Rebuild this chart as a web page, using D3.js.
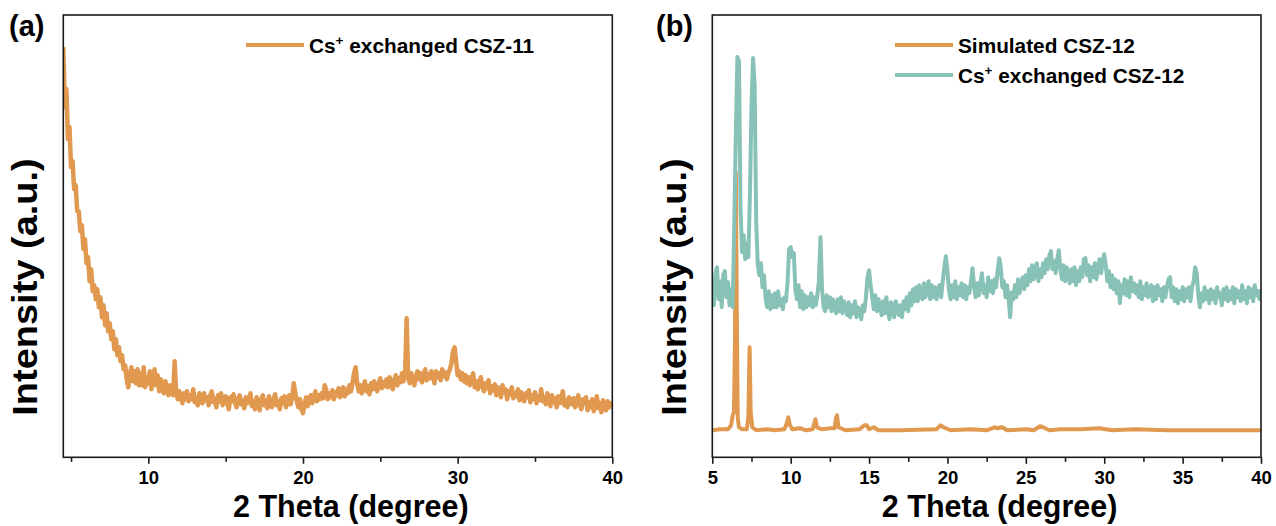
<!DOCTYPE html>
<html><head><meta charset="utf-8">
<script src="https://cdn.jsdelivr.net/npm/d3@7"></script>
<style>
body{margin:0;background:#fff}
text{font-family:"Liberation Sans",Arial,Helvetica,sans-serif;font-weight:bold;fill:#000}
</style>
</head><body>
<svg id="chart" width="1276" height="526"></svg>
<script>
// ---------- DATA ----------
const seriesNames = ["Cs+ exchanged CSZ-11", "Simulated CSZ-12", "Cs+ exchanged CSZ-12"];
const ticksA = [10, 20, 30, 40];
const minorTicksA = [5, 15, 25, 35];
const ticksB = [5, 10, 15, 20, 25, 30, 35, 40];
const minorTicksB = [7.5, 12.5, 17.5, 22.5, 27.5, 32.5, 37.5];
const xDomainA = [4.5, 40];
const xDomainB = [5, 40];
const yDomain = [0, 442];

// measurement step (2theta) of the recorded patterns
const scanStep = 0.1;

// panel (a): Cs+ exchanged CSZ-11, recorded from 4.5 deg, one row per degree
const cs11Start = 4.5;
const cs11Intensity = [
410,350,368,318,330,290,296,268,272,246,
246,226,232,208,218,194,200,176,188,166,
172,158,168,150,160,140,152,132,144,126,
134,118,126,108,118,102,110,96,102,88,
92,78,70,82,90,76,86,74,88,72,
84,72,90,70,80,74,86,68,78,88,
72,82,66,78,70,64,76,68,62,72,
66,62,96,64,58,66,60,54,64,58,
66,56,62,58,68,55,60,52,64,58,
54,64,57,60,52,62,66,55,59,50,
62,56,64,52,58,61,54,48,60,56,
63,55,50,58,62,53,57,49,60,54,
58,64,51,56,48,60,55,47,58,62,
52,57,49,61,54,50,58,63,52,56,
48,59,54,61,50,56,62,53,60,74,
64,56,50,58,48,44,54,60,51,57,
62,54,60,66,56,62,58,64,59,72,
68,58,64,60,67,58,65,62,69,60,
66,70,61,68,64,72,66,74,84,90,
74,66,72,64,70,76,66,71,63,74,
68,76,70,66,74,79,69,75,71,78,
70,80,74,68,77,82,72,79,75,84,
76,82,139,80,74,84,77,72,81,86,
78,84,75,82,88,77,83,79,86,80,
74,86,80,84,77,88,81,85,78,84,
88,94,106,110,96,82,86,78,84,76,
82,74,80,72,78,84,70,76,68,75,
80,70,66,74,69,77,64,71,67,73,
62,70,66,60,72,65,68,58,66,63,
70,59,64,61,68,57,65,60,56,64,
60,67,55,62,58,65,54,61,57,68,
56,60,53,64,58,51,62,55,59,50,
61,54,58,66,52,57,50,60,55,53,
59,50,56,62,52,48,58,54,60,47,
55,50,58,46,53,61,49,54,45,57,
51,47,56,50,54,52
];

// panel (b): Simulated CSZ-12  [2theta, intensity]
const sim12Pattern = [
[5.0,27],[5.5,28],[6.0,28],[6.2,32],[6.3,42],[6.38,45],[6.45,120],[6.5,285],[6.56,150],[6.62,40],
[6.7,30],[6.9,28],[7.2,28],[7.3,40],[7.38,110],[7.45,45],[7.55,30],[7.8,27],[8.5,28],[9.0,27],
[9.6,28],[9.75,34],[9.85,40],[9.95,32],[10.1,28],[10.6,29],[11.0,27],[11.4,28],[11.5,34],[11.58,38],
[11.68,30],[12.0,28],[12.5,29],[12.8,29],[12.88,38],[12.95,42],[13.05,30],[13.5,27],[14.4,28],[14.7,32],
[14.85,32],[15.0,28],[15.3,30],[15.6,27],[17.0,27],[19.3,28],[19.55,32],[19.75,30],[20.2,27],[21.5,28],
[22.5,27],[23.0,30],[23.2,29],[23.5,30],[23.8,27],[25.0,28],[25.5,27],[25.9,31],[26.1,30],[26.5,27],
[27.2,28],[28.5,28],[29.7,29],[30.5,27],[32.0,28],[34.0,27],[36.0,27],[38.0,27],[40.0,27]
];

// panel (b): Cs+ exchanged CSZ-12, recorded from 5 deg, one row per degree
const cs12Start = 5.0;
const cs12Intensity = [
170,152,184,190,158,176,150,182,186,160,
175,152,168,150,232,322,400,396,248,205,
222,198,214,200,262,352,399,372,236,192,
182,194,170,182,158,150,166,148,162,150,
164,150,166,152,158,148,160,156,175,208,
210,200,204,168,158,172,150,166,148,162,
150,160,152,164,150,160,152,162,176,220,
168,150,146,162,150,160,146,158,152,144,
158,146,160,144,156,150,142,155,140,152,
144,156,140,150,146,138,152,146,160,180,
187,172,160,148,162,146,158,150,142,156,
144,160,146,138,155,148,140,156,150,142,
152,140,156,148,160,146,164,152,168,156,
170,156,172,162,158,174,160,170,176,158,
172,160,170,158,168,172,160,176,190,201,
186,166,158,172,160,176,158,170,162,174,
160,172,158,170,164,176,189,170,160,174,
162,174,184,164,172,160,180,166,176,164,
178,170,186,199,190,170,176,160,172,158,
140,165,158,172,160,178,164,172,180,168,
182,172,188,176,192,178,186,194,176,188,
180,194,184,198,188,202,206,188,196,184,
198,207,188,178,192,176,190,182,174,188,
176,190,172,186,176,190,180,198,199,182,
192,176,190,180,194,178,190,198,184,194,
203,192,176,186,170,182,168,178,164,176,
154,172,164,178,162,176,160,180,166,174,
164,172,160,176,158,170,162,174,160,168,
172,156,170,158,172,162,168,156,170,160,
170,178,180,160,170,156,168,154,166,158,
170,156,168,160,170,156,170,176,190,184,
162,150,164,156,170,158,166,154,168,158,
166,154,170,160,164,152,168,158,170,156,
166,158,170,154,168,160,166,156,172,158,
166,154,170,160,168,156,172,162,166,158,
168
];

// ---------- DRAWING ----------
const ORANGE = "#E0994F";
const TEAL = "#88C2B6";
const svg = d3.select("#chart");

const scanPairs = (start, values) => values.map((v, i) => [+(start + i * scanStep).toFixed(2), v]);

function panel(cfg) {
  const g = svg.append("g");
  const x = d3.scaleLinear().domain(cfg.xDomain).range([cfg.left, cfg.right]);
  const y = d3.scaleLinear().domain(yDomain).range([cfg.bottom, cfg.top]);
  const clipId = "clip" + cfg.id;
  svg.append("clipPath").attr("id", clipId).append("rect")
    .attr("x", cfg.left).attr("y", cfg.top)
    .attr("width", cfg.right - cfg.left).attr("height", cfg.bottom - cfg.top);

  const line = d3.line().x(d => x(d[0])).y(d => y(d[1]));
  cfg.series.forEach(s => {
    g.append("path").datum(s.data).attr("d", line)
      .attr("fill", "none").attr("stroke", s.color).attr("stroke-width", s.width || 4)
      .attr("stroke-linejoin", "round").attr("stroke-linecap", "butt")
      .attr("clip-path", `url(#${clipId})`);
  });

  // frame
  g.append("rect").attr("x", cfg.left).attr("y", cfg.top)
    .attr("width", cfg.right - cfg.left).attr("height", cfg.bottom - cfg.top)
    .attr("fill", "none").attr("stroke", "#1a1a1a").attr("stroke-width", 1.6);

  // minor ticks
  const minor = g.append("g").attr("transform", `translate(0,${cfg.bottom})`)
    .call(d3.axisBottom(x).tickValues(cfg.minorTicks).tickSize(4.5).tickFormat(""));
  minor.select(".domain").remove();
  minor.selectAll("line").attr("stroke", "#1a1a1a").attr("stroke-width", 1.6);
  // major ticks
  const major = g.append("g").attr("transform", `translate(0,${cfg.bottom})`)
    .call(d3.axisBottom(x).tickValues(cfg.ticks).tickSize(6.5).tickPadding(7).tickFormat(d3.format("d")));
  major.select(".domain").remove();
  major.selectAll("line").attr("stroke", "#1a1a1a").attr("stroke-width", 1.6);
  major.selectAll("text").attr("font-size", 18.5).attr("fill", "#000")
    .attr("font-family", '"Liberation Sans",Arial,sans-serif').attr("font-weight", "bold");

  // axis titles
  g.append("text").attr("x", (cfg.left + cfg.right) / 2 + 13).attr("y", 517)
    .attr("text-anchor", "middle").attr("font-size", 30.5).text("2 Theta (degree)");
  g.append("text").attr("transform", `translate(${cfg.yTitleX},287) rotate(-90) scale(1,0.9)`)
    .attr("text-anchor", "middle").attr("font-size", 38).text("Intensity (a.u.)");

  // panel label
  g.append("text").attr("x", cfg.labelX).attr("y", 36).attr("font-size", 29).text(cfg.label);

  // legend
  cfg.series.forEach((s, i) => {
    const ly = 45 + i * 30;
    g.append("line").attr("x1", cfg.legendX).attr("x2", cfg.legendX + 58)
      .attr("y1", ly).attr("y2", ly).attr("stroke", s.color).attr("stroke-width", 4);
    const t = g.append("text").attr("x", cfg.legendX + 63).attr("y", ly + 7.5).attr("font-size", 20.8);
    const name = s.name;
    if (name.startsWith("Cs+")) {
      t.append("tspan").text("Cs");
      t.append("tspan").attr("font-size", 13.5).attr("dy", -8).text("+");
      t.append("tspan").attr("dy", 8).text(name.slice(3));
    } else {
      t.text(name);
    }
  });
}

panel({
  id: "a", left: 63.3, right: 612.3, top: 15, bottom: 457.3,
  xDomain: xDomainA, ticks: ticksA, minorTicks: minorTicksA,
  yTitleX: 37, label: "(a)", labelX: 9, legendX: 246,
  series: [{ name: seriesNames[0], data: scanPairs(cs11Start, cs11Intensity), color: ORANGE, width: 4.5 }]
});
panel({
  id: "b", left: 712.3, right: 1261, top: 15, bottom: 457.3,
  xDomain: xDomainB, ticks: ticksB, minorTicks: minorTicksB,
  yTitleX: 686, label: "(b)", labelX: 656, legendX: 895,
  series: [
    { name: seriesNames[1], data: sim12Pattern, color: ORANGE },
    { name: seriesNames[2], data: scanPairs(cs12Start, cs12Intensity), color: TEAL }
  ]
});
</script>
</body></html>
